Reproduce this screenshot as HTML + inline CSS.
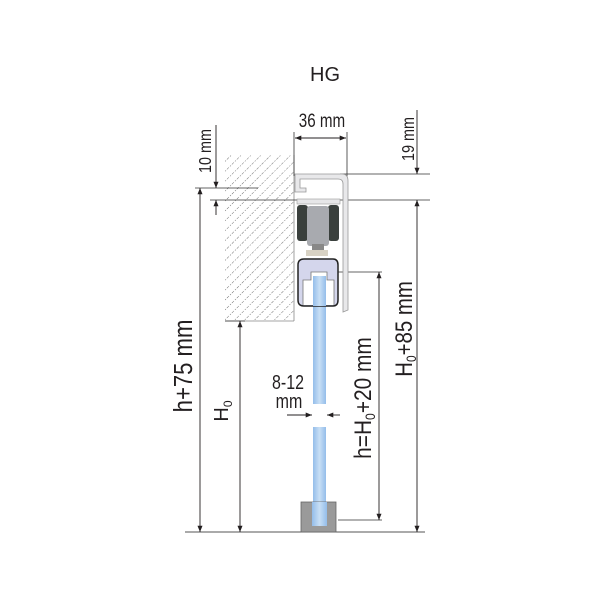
<!DOCTYPE html>
<html><head><style>
body{margin:0;background:#fff;}
svg text{font-family:"Liberation Sans",sans-serif;fill:#231f20;}
</style></head><body>
<svg width="600" height="600" viewBox="0 0 600 600" xmlns="http://www.w3.org/2000/svg">
<defs>
<pattern id="h" width="7" height="7" patternUnits="userSpaceOnUse" patternTransform="rotate(45)">
<line x1="0" y1="0" x2="0" y2="7" stroke="#555" stroke-width="1" stroke-dasharray="1.2,1.6"/>
</pattern>
<linearGradient id="g" x1="0" x2="1"><stop offset="0" stop-color="#94bdea"/><stop offset="0.5" stop-color="#c8dff5"/><stop offset="1" stop-color="#94bdea"/></linearGradient>
<marker id="a" viewBox="0 0 10 10" refX="10" refY="5" markerWidth="7" markerHeight="7" orient="auto-start-reverse"><path d="M0,1 L10,5 L0,9z" fill="#231f20"/></marker>
</defs>
<text x="325" y="81" font-size="20" text-anchor="middle">HG</text>
<rect x="225" y="155" width="69" height="166" fill="url(#h)"/>
<line x1="225" y1="321" x2="294" y2="321" stroke="#888" stroke-width="0.8"/>
<line x1="294" y1="155" x2="294" y2="321" stroke="#888" stroke-width="0.8"/>
<line x1="185" y1="532" x2="425" y2="532" stroke="#555" stroke-width="1"/>
<line x1="294" y1="132" x2="294" y2="176" stroke="#333" stroke-width="0.8"/>
<line x1="347" y1="132" x2="347" y2="180" stroke="#333" stroke-width="0.8"/>
<line x1="340" y1="174" x2="430" y2="174" stroke="#333" stroke-width="0.8"/>
<line x1="210" y1="200" x2="430" y2="200" stroke="#333" stroke-width="0.8"/>
<line x1="195" y1="188" x2="258" y2="188" stroke="#333" stroke-width="0.8"/>
<line x1="330" y1="272" x2="382" y2="272" stroke="#333" stroke-width="0.8"/>
<line x1="338" y1="520" x2="382" y2="520" stroke="#333" stroke-width="0.8"/>
<line x1="225" y1="321" x2="245" y2="321" stroke="#333" stroke-width="0.8"/>
<line x1="295" y1="138" x2="346" y2="138" stroke="#231f20" stroke-width="0.9" marker-start="url(#a)" marker-end="url(#a)"/>
<text transform="translate(322,127) scale(0.8,1)" font-size="19" text-anchor="middle">36 mm</text>
<line x1="417" y1="110" x2="417" y2="174" stroke="#231f20" stroke-width="0.9" marker-end="url(#a)"/>
<line x1="417" y1="200" x2="417" y2="532" stroke="#231f20" stroke-width="0.9" marker-start="url(#a)" marker-end="url(#a)"/>
<text transform="translate(414,139) rotate(-90) scale(0.8,1)" font-size="18" text-anchor="middle">19 mm</text>
<text transform="translate(412,329) rotate(-90) scale(0.85,1)" font-size="24" text-anchor="middle">H<tspan font-size="14" dy="4">0</tspan><tspan dy="-4">+85 mm</tspan></text>
<line x1="216" y1="125" x2="216" y2="188" stroke="#231f20" stroke-width="0.9" marker-end="url(#a)"/>
<line x1="216" y1="200" x2="216" y2="215" stroke="#231f20" stroke-width="0.9" marker-start="url(#a)"/>
<text transform="translate(211,151) rotate(-90) scale(0.8,1)" font-size="18" text-anchor="middle">10 mm</text>
<line x1="200" y1="188" x2="200" y2="532" stroke="#231f20" stroke-width="0.9" marker-start="url(#a)" marker-end="url(#a)"/>
<text transform="translate(192,366) rotate(-90) scale(0.85,1)" font-size="26" text-anchor="middle">h+75 mm</text>
<line x1="240" y1="321" x2="240" y2="532" stroke="#231f20" stroke-width="0.9" marker-start="url(#a)" marker-end="url(#a)"/>
<text transform="translate(228,411) rotate(-90)" font-size="20" text-anchor="middle">H<tspan font-size="12" dy="4">0</tspan></text>
<line x1="379" y1="272" x2="379" y2="520" stroke="#231f20" stroke-width="0.9" marker-start="url(#a)" marker-end="url(#a)"/>
<text transform="translate(371,398) rotate(-90) scale(0.87,1)" font-size="24" text-anchor="middle">h=H<tspan font-size="14" dy="4">0</tspan><tspan dy="-4">+20 mm</tspan></text>
<rect x="313" y="272" width="13" height="132" fill="url(#g)"/>
<rect x="313" y="427" width="13" height="103" fill="url(#g)"/>
<text transform="translate(288,389) scale(0.8,1)" font-size="20" text-anchor="middle">8-12</text>
<text transform="translate(289,408) scale(0.8,1)" font-size="20" text-anchor="middle">mm</text>
<line x1="287" y1="415" x2="312" y2="415" stroke="#231f20" stroke-width="0.9" marker-end="url(#a)"/>
<line x1="340" y1="415" x2="327" y2="415" stroke="#231f20" stroke-width="0.9" marker-end="url(#a)"/>
<rect x="301" y="502" width="35" height="30" fill="#9a9a9a" stroke="#666" stroke-width="0.8"/>
<rect x="312" y="502" width="15" height="24" fill="url(#g)"/>
<path d="M295,174 L342,174 Q348,174 348,181 L348,310 L343,312 L343,184 Q343,179 338,179 L300,179 L300,188 L306,188 L306,192 L295,192 Z" fill="#e8e8ea" stroke="#999" stroke-width="0.8"/>
<rect x="297" y="199" width="43" height="5" fill="#e6e6e8" stroke="#999" stroke-width="0.6"/>
<rect x="297" y="205" width="11" height="36" rx="3" fill="#3a403d"/>
<rect x="328" y="205" width="11" height="36" rx="3" fill="#3a403d"/>
<rect x="307" y="206" width="22" height="40" rx="3" fill="#a8aaaf"/>
<rect x="312" y="244" width="12" height="6" fill="#888"/>
<rect x="306" y="250" width="22" height="6" fill="#d8d2c4"/>
<path d="M304,259 L333,259 Q338,259 338,265 L338,300 Q338,306 333,306 L304,306 Q298,306 298,300 L298,265 Q298,259 304,259 Z" fill="#d4d6ec" stroke="#222" stroke-width="1.5"/>
<path d="M303,305 L303,280 L311,280 L311,272 L327,272 L327,280 L334,280 L334,305" fill="#fff" stroke="#777" stroke-width="0.8"/>
<rect x="313" y="276" width="13" height="30" fill="url(#g)"/>
</svg>
</body></html>
